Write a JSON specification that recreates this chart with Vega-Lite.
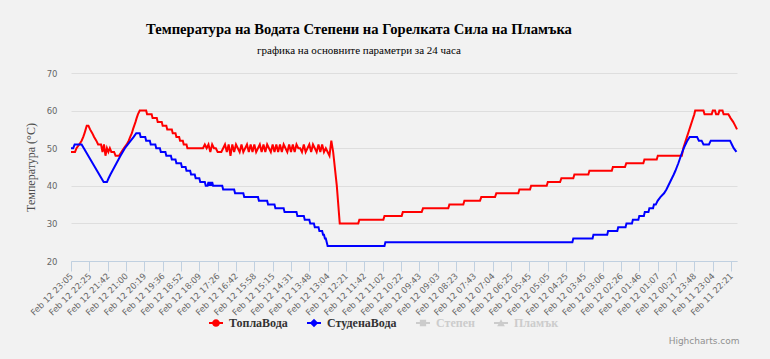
{
  "$schema": "https://vega.github.io/schema/vega-lite/v6.json",
  "autosize": {"type": "none"},
  "width": 666,
  "height": 188,
  "padding": {"left": 71, "top": 73, "right": 33, "bottom": 98},
  "background": "#f2f2f2",
  "title": {
    "text": "Температура на Водата Степени на Горелката Сила на Пламъка",
    "subtitle": "графика на основните параметри за 24 часа",
    "anchor": "middle",
    "dx": -45,
    "offset": 13,
    "font": "Liberation Serif",
    "fontSize": 14.6,
    "fontWeight": "bold",
    "color": "#000000",
    "subtitleFont": "Liberation Serif",
    "subtitleFontSize": 11,
    "subtitleColor": "#000000",
    "subtitlePadding": 8
  },
  "data": {"values": [
    {"s":"ТоплаВода","k":0,"v":49},{"s":"ТоплаВода","k":2.2,"v":49},{"s":"ТоплаВода","k":3,"v":50},{"s":"ТоплаВода","k":4.5,"v":51},{"s":"ТоплаВода","k":5.8,"v":52},{"s":"ТоплаВода","k":6.7,"v":53},{"s":"ТоплаВода","k":7.4,"v":54},{"s":"ТоплаВода","k":8,"v":55},{"s":"ТоплаВода","k":8.6,"v":56},{"s":"ТоплаВода","k":9.5,"v":56},{"s":"ТоплаВода","k":10.4,"v":55},{"s":"ТоплаВода","k":11.6,"v":54},{"s":"ТоплаВода","k":12.6,"v":53},{"s":"ТоплаВода","k":13.8,"v":52},{"s":"ТоплаВода","k":14.8,"v":51},{"s":"ТоплаВода","k":16.4,"v":51},
    {"s":"ТоплаВода","k":17.2,"v":49},{"s":"ТоплаВода","k":18,"v":51},{"s":"ТоплаВода","k":18.8,"v":48},{"s":"ТоплаВода","k":19.6,"v":50},{"s":"ТоплаВода","k":20.4,"v":49},{"s":"ТоплаВода","k":21.2,"v":50},{"s":"ТоплаВода","k":22,"v":49},{"s":"ТоплаВода","k":23.5,"v":49},{"s":"ТоплаВода","k":24.3,"v":48},{"s":"ТоплаВода","k":26.2,"v":48},
    {"s":"ТоплаВода","k":27.5,"v":49},{"s":"ТоплаВода","k":28.9,"v":50},{"s":"ТоплаВода","k":30.4,"v":51},{"s":"ТоплаВода","k":31.5,"v":52},{"s":"ТоплаВода","k":32.3,"v":53},{"s":"ТоплаВода","k":33.2,"v":54},{"s":"ТоплаВода","k":33.8,"v":55},{"s":"ТоплаВода","k":34.5,"v":56},{"s":"ТоплаВода","k":35.2,"v":57},{"s":"ТоплаВода","k":35.8,"v":58},{"s":"ТоплаВода","k":36.5,"v":59},{"s":"ТоплаВода","k":37.5,"v":60},{"s":"ТоплаВода","k":41,"v":60},
    {"s":"ТоплаВода","k":41.5,"v":59},{"s":"ТоплаВода","k":44,"v":59},{"s":"ТоплаВода","k":44.5,"v":58},{"s":"ТоплаВода","k":46.8,"v":58},{"s":"ТоплаВода","k":47.3,"v":57},{"s":"ТоплаВода","k":49.5,"v":57},{"s":"ТоплаВода","k":50,"v":56},{"s":"ТоплаВода","k":52,"v":56},{"s":"ТоплаВода","k":52.5,"v":55},{"s":"ТоплаВода","k":55,"v":55},{"s":"ТоплаВода","k":55.5,"v":54},{"s":"ТоплаВода","k":57,"v":54},{"s":"ТоплаВода","k":57.5,"v":53},{"s":"ТоплаВода","k":59,"v":53},{"s":"ТоплаВода","k":59.5,"v":52},{"s":"ТоплаВода","k":61,"v":52},{"s":"ТоплаВода","k":61.5,"v":51},{"s":"ТоплаВода","k":63,"v":51},{"s":"ТоплаВода","k":63.5,"v":50},{"s":"ТоплаВода","k":72,"v":50},
    {"s":"ТоплаВода","k":73,"v":51},{"s":"ТоплаВода","k":74,"v":50},{"s":"ТоплаВода","k":75,"v":51},{"s":"ТоплаВода","k":76,"v":49},{"s":"ТоплаВода","k":77,"v":51},{"s":"ТоплаВода","k":78,"v":50},{"s":"ТоплаВода","k":79,"v":50},{"s":"ТоплаВода","k":80,"v":49},{"s":"ТоплаВода","k":81,"v":49},{"s":"ТоплаВода","k":82,"v":49},{"s":"ТоплаВода","k":83,"v":50},{"s":"ТоплаВода","k":84,"v":51},{"s":"ТоплаВода","k":85,"v":49},{"s":"ТоплаВода","k":86,"v":51},{"s":"ТоплаВода","k":87,"v":48},{"s":"ТоплаВода","k":88,"v":51},{"s":"ТоплаВода","k":89,"v":49},{"s":"ТоплаВода","k":90,"v":51},{"s":"ТоплаВода","k":91,"v":50},{"s":"ТоплаВода","k":92,"v":49},{"s":"ТоплаВода","k":93,"v":51},{"s":"ТоплаВода","k":94,"v":49},{"s":"ТоплаВода","k":95,"v":50},{"s":"ТоплаВода","k":96,"v":51},{"s":"ТоплаВода","k":97,"v":49},{"s":"ТоплаВода","k":98,"v":51},{"s":"ТоплаВода","k":99,"v":49},{"s":"ТоплаВода","k":100,"v":51},
    {"s":"ТоплаВода","k":101,"v":49},{"s":"ТоплаВода","k":102,"v":50},{"s":"ТоплаВода","k":103,"v":51},{"s":"ТоплаВода","k":104,"v":49},{"s":"ТоплаВода","k":105,"v":51},{"s":"ТоплаВода","k":106,"v":49},{"s":"ТоплаВода","k":107,"v":51},{"s":"ТоплаВода","k":108,"v":50},{"s":"ТоплаВода","k":109,"v":49},{"s":"ТоплаВода","k":110,"v":51},{"s":"ТоплаВода","k":111,"v":49},{"s":"ТоплаВода","k":112,"v":51},{"s":"ТоплаВода","k":113,"v":49},{"s":"ТоплаВода","k":114,"v":51},{"s":"ТоплаВода","k":115,"v":49},{"s":"ТоплаВода","k":116,"v":51},{"s":"ТоплаВода","k":117,"v":50},{"s":"ТоплаВода","k":118,"v":49},{"s":"ТоплаВода","k":119,"v":51},{"s":"ТоплаВода","k":120,"v":49},{"s":"ТоплаВода","k":121,"v":51},{"s":"ТоплаВода","k":122,"v":49},{"s":"ТоплаВода","k":123,"v":51},{"s":"ТоплаВода","k":124,"v":50},{"s":"ТоплаВода","k":125,"v":50},{"s":"ТоплаВода","k":126,"v":49},{"s":"ТоплаВода","k":127,"v":51},{"s":"ТоплаВода","k":128,"v":49},{"s":"ТоплаВода","k":129,"v":50},{"s":"ТоплаВода","k":130,"v":51},{"s":"ТоплаВода","k":131,"v":49},{"s":"ТоплаВода","k":132,"v":51},{"s":"ТоплаВода","k":133,"v":50},{"s":"ТоплаВода","k":134,"v":49},{"s":"ТоплаВода","k":135,"v":51},{"s":"ТоплаВода","k":136,"v":49},{"s":"ТоплаВода","k":137,"v":51},{"s":"ТоплаВода","k":138,"v":49},{"s":"ТоплаВода","k":139,"v":50},{"s":"ТоплаВода","k":140,"v":49},{"s":"ТоплаВода","k":141,"v":48},
    {"s":"ТоплаВода","k":142,"v":52},{"s":"ТоплаВода","k":143,"v":49},{"s":"ТоплаВода","k":145,"v":40},{"s":"ТоплаВода","k":146.6,"v":30},{"s":"ТоплаВода","k":156.7,"v":30},{"s":"ТоплаВода","k":157.3,"v":31},{"s":"ТоплаВода","k":170.4,"v":31},{"s":"ТоплаВода","k":171,"v":32},{"s":"ТоплаВода","k":180.4,"v":32},{"s":"ТоплаВода","k":181,"v":33},{"s":"ТоплаВода","k":191.3,"v":33},{"s":"ТоплаВода","k":192,"v":34},{"s":"ТоплаВода","k":205.8,"v":34},{"s":"ТоплаВода","k":206.4,"v":35},{"s":"ТоплаВода","k":214,"v":35},{"s":"ТоплаВода","k":214.6,"v":36},{"s":"ТоплаВода","k":223.1,"v":36},{"s":"ТоплаВода","k":223.8,"v":37},{"s":"ТоплаВода","k":231.3,"v":37},{"s":"ТоплаВода","k":232,"v":38},{"s":"ТоплаВода","k":244,"v":38},{"s":"ТоплаВода","k":244.6,"v":39},{"s":"ТоплаВода","k":250.4,"v":39},{"s":"ТоплаВода","k":251,"v":40},{"s":"ТоплаВода","k":259.5,"v":40},{"s":"ТоплаВода","k":260.1,"v":41},{"s":"ТоплаВода","k":266.8,"v":41},{"s":"ТоплаВода","k":267.5,"v":42},{"s":"ТоплаВода","k":274,"v":42},{"s":"ТоплаВода","k":274.6,"v":43},{"s":"ТоплаВода","k":282.2,"v":43},{"s":"ТоплаВода","k":282.8,"v":44},{"s":"ТоплаВода","k":295,"v":44},{"s":"ТоплаВода","k":295.6,"v":45},{"s":"ТоплаВода","k":302.2,"v":45},{"s":"ТоплаВода","k":302.9,"v":46},{"s":"ТоплаВода","k":312.2,"v":46},{"s":"ТоплаВода","k":312.8,"v":47},{"s":"ТоплаВода","k":319.5,"v":47},{"s":"ТоплаВода","k":320.1,"v":48},{"s":"ТоплаВода","k":333.2,"v":48},
    {"s":"ТоплаВода","k":334,"v":50},{"s":"ТоплаВода","k":335,"v":51.5},{"s":"ТоплаВода","k":336,"v":53},{"s":"ТоплаВода","k":337,"v":54.5},{"s":"ТоплаВода","k":338,"v":56},{"s":"ТоплаВода","k":339,"v":57.5},{"s":"ТоплаВода","k":340,"v":59},{"s":"ТоплаВода","k":340.5,"v":60},{"s":"ТоплаВода","k":345,"v":60},{"s":"ТоплаВода","k":345.6,"v":59},{"s":"ТоплаВода","k":349.5,"v":59},{"s":"ТоплаВода","k":350.1,"v":60},{"s":"ТоплаВода","k":351.3,"v":60},{"s":"ТоплаВода","k":351.9,"v":59},{"s":"ТоплаВода","k":353.1,"v":59},{"s":"ТоплаВода","k":353.7,"v":60},{"s":"ТоплаВода","k":355.4,"v":60},{"s":"ТоплаВода","k":356,"v":59},{"s":"ТоплаВода","k":358.6,"v":59},{"s":"ТоплаВода","k":359.8,"v":58},{"s":"ТоплаВода","k":361.2,"v":57},{"s":"ТоплаВода","k":362.3,"v":56},{"s":"ТоплаВода","k":363.3,"v":55},

    {"s":"СтуденаВода","k":0,"v":50},{"s":"СтуденаВода","k":1.2,"v":50},{"s":"СтуденаВода","k":2,"v":51},{"s":"СтуденаВода","k":5.8,"v":51},{"s":"СтуденаВода","k":7,"v":50},{"s":"СтуденаВода","k":8.2,"v":49},{"s":"СтуденаВода","k":9.4,"v":48},{"s":"СтуденаВода","k":10.6,"v":47},{"s":"СтуденаВода","k":11.8,"v":46},{"s":"СтуденаВода","k":13,"v":45},{"s":"СтуденаВода","k":14.2,"v":44},{"s":"СтуденаВода","k":15.4,"v":43},{"s":"СтуденаВода","k":16.6,"v":42},{"s":"СтуденаВода","k":17.8,"v":41},{"s":"СтуденаВода","k":19.6,"v":41},{"s":"СтуденаВода","k":20.5,"v":42},{"s":"СтуденаВода","k":21.5,"v":43},{"s":"СтуденаВода","k":22.6,"v":44},{"s":"СтуденаВода","k":23.7,"v":45},{"s":"СтуденаВода","k":24.8,"v":46},{"s":"СтуденаВода","k":25.9,"v":47},{"s":"СтуденаВода","k":27,"v":48},{"s":"СтуденаВода","k":28.2,"v":49},{"s":"СтуденаВода","k":29.4,"v":50},{"s":"СтуденаВода","k":31,"v":51},{"s":"СтуденаВода","k":32.6,"v":52},{"s":"СтуденаВода","k":34.2,"v":53},{"s":"СтуденаВода","k":35.6,"v":54},{"s":"СтуденаВода","k":37.5,"v":54},
    {"s":"СтуденаВода","k":38,"v":53},{"s":"СтуденаВода","k":40.5,"v":53},{"s":"СтуденаВода","k":41,"v":52},{"s":"СтуденаВода","k":43,"v":52},{"s":"СтуденаВода","k":43.5,"v":51},{"s":"СтуденаВода","k":46,"v":51},{"s":"СтуденаВода","k":46.5,"v":50},{"s":"СтуденаВода","k":48.5,"v":50},{"s":"СтуденаВода","k":49,"v":49},{"s":"СтуденаВода","k":51.5,"v":49},{"s":"СтуденаВода","k":52,"v":48},{"s":"СтуденаВода","k":54.5,"v":48},{"s":"СтуденаВода","k":55,"v":47},{"s":"СтуденаВода","k":57,"v":47},{"s":"СтуденаВода","k":57.5,"v":46},{"s":"СтуденаВода","k":60,"v":46},{"s":"СтуденаВода","k":60.5,"v":45},{"s":"СтуденаВода","k":62.5,"v":45},{"s":"СтуденаВода","k":63,"v":44},{"s":"СтуденаВода","k":65,"v":44},{"s":"СтуденаВода","k":65.5,"v":43},{"s":"СтуденаВода","k":67.5,"v":43},{"s":"СтуденаВода","k":68,"v":42},{"s":"СтуденаВода","k":70,"v":42},{"s":"СтуденаВода","k":70.5,"v":41},{"s":"СтуденаВода","k":73,"v":41},{"s":"СтуденаВода","k":73.5,"v":40},{"s":"СтуденаВода","k":74.5,"v":40},{"s":"СтуденаВода","k":75,"v":41},{"s":"СтуденаВода","k":75.5,"v":40},{"s":"СтуденаВода","k":76,"v":41},{"s":"СтуденаВода","k":76.5,"v":40},{"s":"СтуденаВода","k":77,"v":41},{"s":"СтуденаВода","k":77.5,"v":40},{"s":"СтуденаВода","k":82.5,"v":40},{"s":"СтуденаВода","k":83,"v":39},{"s":"СтуденаВода","k":89,"v":39},{"s":"СтуденаВода","k":89.5,"v":38},{"s":"СтуденаВода","k":94,"v":38},{"s":"СтуденаВода","k":94.5,"v":37},{"s":"СтуденаВода","k":102,"v":37},{"s":"СтуденаВода","k":102.5,"v":36},{"s":"СтуденаВода","k":107,"v":36},{"s":"СтуденаВода","k":107.5,"v":35},{"s":"СтуденаВода","k":111,"v":35},{"s":"СтуденаВода","k":111.5,"v":34},{"s":"СтуденаВода","k":116,"v":34},{"s":"СтуденаВода","k":116.5,"v":33},{"s":"СтуденаВода","k":123,"v":33},{"s":"СтуденаВода","k":123.5,"v":32},{"s":"СтуденаВода","k":127,"v":32},{"s":"СтуденаВода","k":127.5,"v":31},{"s":"СтуденаВода","k":130,"v":31},{"s":"СтуденаВода","k":130.5,"v":30},{"s":"СтуденаВода","k":132.5,"v":30},{"s":"СтуденаВода","k":133,"v":29},{"s":"СтуденаВода","k":135,"v":29},{"s":"СтуденаВода","k":135.5,"v":28},{"s":"СтуденаВода","k":137,"v":28},{"s":"СтуденаВода","k":137.5,"v":27},{"s":"СтуденаВода","k":138,"v":27},{"s":"СтуденаВода","k":138.5,"v":26},{"s":"СтуденаВода","k":139,"v":26},{"s":"СтуденаВода","k":139.5,"v":25},{"s":"СтуденаВода","k":140,"v":24},{"s":"СтуденаВода","k":171,"v":24},{"s":"СтуденаВода","k":171.5,"v":25},{"s":"СтуденаВода","k":273.5,"v":25},{"s":"СтуденаВода","k":274,"v":26},{"s":"СтуденаВода","k":284.5,"v":26},{"s":"СтуденаВода","k":285,"v":27},{"s":"СтуденаВода","k":292.5,"v":27},{"s":"СтуденаВода","k":293,"v":28},{"s":"СтуденаВода","k":298,"v":28},{"s":"СтуденаВода","k":298.5,"v":29},{"s":"СтуденаВода","k":302.5,"v":29},{"s":"СтуденаВода","k":303,"v":30},{"s":"СтуденаВода","k":306,"v":30},{"s":"СтуденаВода","k":306.5,"v":31},{"s":"СтуденаВода","k":309.5,"v":31},{"s":"СтуденаВода","k":310,"v":32},{"s":"СтуденаВода","k":312.5,"v":32},{"s":"СтуденаВода","k":313,"v":33},{"s":"СтуденаВода","k":315,"v":33},{"s":"СтуденаВода","k":315.5,"v":34},{"s":"СтуденаВода","k":317.5,"v":34},{"s":"СтуденаВода","k":318,"v":35},{"s":"СтуденаВода","k":319,"v":35},{"s":"СтуденаВода","k":320,"v":36},{"s":"СтуденаВода","k":321.5,"v":37},{"s":"СтуденаВода","k":323.5,"v":38},{"s":"СтуденаВода","k":324.8,"v":39},{"s":"СтуденаВода","k":325.8,"v":40},{"s":"СтуденаВода","k":326.8,"v":41},{"s":"СтуденаВода","k":327.8,"v":42},{"s":"СтуденаВода","k":328.8,"v":43},{"s":"СтуденаВода","k":329.7,"v":44},{"s":"СтуденаВода","k":330.5,"v":45},{"s":"СтуденаВода","k":331.3,"v":46},{"s":"СтуденаВода","k":332,"v":47},{"s":"СтуденаВода","k":332.7,"v":48},{"s":"СтуденаВода","k":333.5,"v":49},{"s":"СтуденаВода","k":334.3,"v":50},{"s":"СтуденаВода","k":335.2,"v":51},{"s":"СтуденаВода","k":336.2,"v":52},{"s":"СтуденаВода","k":337.5,"v":53},{"s":"СтуденаВода","k":341.5,"v":53},{"s":"СтуденаВода","k":342.5,"v":52},{"s":"СтуденаВода","k":344,"v":52},{"s":"СтуденаВода","k":345,"v":51},{"s":"СтуденаВода","k":348,"v":51},{"s":"СтуденаВода","k":349,"v":52},{"s":"СтуденаВода","k":359.5,"v":52},{"s":"СтуденаВода","k":360.5,"v":51},{"s":"СтуденаВода","k":361.5,"v":50},{"s":"СтуденаВода","k":363,"v":49}
  ]},
  "mark": {"type": "line", "strokeWidth": 2, "interpolate": "linear"},
  "encoding": {
    "x": {
      "field": "k", "type": "quantitative",
      "scale": {"domain": [0, 363.3], "nice": false, "zero": false},
      "axis": {
        "title": "Highcharts.com",
        "titleFont": "DejaVu Sans", "titleFontSize": 9, "titleFontWeight": "normal", "titleColor": "#909090",
        "titleAnchor": "end", "titleAlign": "right", "titleBaseline": "alphabetic", "titleX": 668, "titleY": 82,
        "values": [0,10,20,30,40,50,60,70,80,90,100,110,120,130,140,150,160,170,180,190,200,210,220,230,240,250,260,270,280,290,300,310,320,330,340,350,360],
        "labelExpr": "['Feb 12 23:05','Feb 12 22:25','Feb 12 21:42','Feb 12 21:00','Feb 12 20:19','Feb 12 19:36','Feb 12 18:52','Feb 12 18:09','Feb 12 17:26','Feb 12 16:42','Feb 12 15:58','Feb 12 15:15','Feb 12 14:31','Feb 12 13:48','Feb 12 13:04','Feb 12 12:21','Feb 12 11:42','Feb 12 11:02','Feb 12 10:22','Feb 12 09:43','Feb 12 09:03','Feb 12 08:23','Feb 12 07:43','Feb 12 07:04','Feb 12 06:25','Feb 12 05:45','Feb 12 05:05','Feb 12 04:25','Feb 12 03:45','Feb 12 03:06','Feb 12 02:26','Feb 12 01:46','Feb 12 01:07','Feb 12 00:27','Feb 11 23:48','Feb 11 23:04','Feb 11 22:21'][round(datum.value/10)]",
        "labelAngle": -45, "labelAlign": "right", "labelBaseline": "middle",
        "labelFont": "DejaVu Sans", "labelFontSize": 8.5, "labelColor": "#666666",
        "labelOverlap": false, "labelBound": false, "labelFlush": false, "labelPadding": 3,
        "grid": false, "domainColor": "#C0D0E0", "domainWidth": 1,
        "ticks": true, "tickColor": "#C0D0E0", "tickSize": 10, "tickWidth": 1
      }
    },
    "y": {
      "field": "v", "type": "quantitative",
      "scale": {"domain": [20, 70], "nice": false, "zero": false},
      "axis": {
        "title": "Температура (°C)",
        "titleFont": "Liberation Serif", "titleFontSize": 12, "titleFontWeight": "normal", "titleColor": "#4d4d4d",
        "titlePadding": 9,
        "values": [20, 30, 40, 50, 60, 70],
        "labelFont": "DejaVu Sans", "labelFontSize": 8.5, "labelColor": "#666666", "labelPadding": 14,
        "labelOverlap": false,
        "domain": false, "ticks": false,
        "grid": true, "gridColor": "#dedede", "gridWidth": 1
      }
    },
    "color": {
      "field": "s", "type": "nominal",
      "scale": {"domain": ["ТоплаВода", "СтуденаВода", "Степен", "Пламък"], "range": ["#ff0000", "#0000ff", "#cccccc", "#cccccc"]},
      "legend": {
        "title": null, "orient": "none", "legendX": 138, "legendY": 243, "direction": "horizontal",
        "symbolSize": 196, "symbolStrokeWidth": 0,
        "labelFont": "Liberation Serif", "labelFontSize": 12, "labelFontWeight": "bold", "labelColor": "#333333",
        "labelOffset": 6, "columnPadding": 19,
        "encode": {
          "symbols": {"update": {
            "shape": [
              {"test": "datum.value === 'ТоплаВода'", "value": "M-1,-0.14H1V0.14H-1Z M0.55,0A0.55,0.55,0,1,1,-0.55,0A0.55,0.55,0,1,1,0.55,0Z"},
              {"test": "datum.value === 'СтуденаВода'", "value": "M-1,-0.14H1V0.14H-1Z M0,-0.6L0.6,0L0,0.6L-0.6,0Z"},
              {"test": "datum.value === 'Степен'", "value": "M-1,-0.14H1V0.14H-1Z M-0.45,-0.45H0.45V0.45H-0.45Z"},
              {"value": "M-1,-0.14H1V0.14H-1Z M0,-0.55L0.55,0.45H-0.55Z"}
            ],
            "fill": {"scale": "color", "field": "value"},
            "fillOpacity": {"value": 1},
            "opacity": {"value": 1},
            "strokeWidth": {"value": 0}
          }},
          "labels": {"update": {"fill": [{"test": "datum.value === 'Степен' || datum.value === 'Пламък'", "value": "#cccccc"}, {"value": "#333333"}]}}
        }
      }
    }
  },
  "config": {"view": {"stroke": null}}
}
